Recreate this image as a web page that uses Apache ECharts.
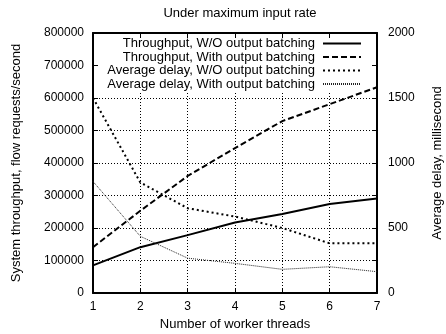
<!DOCTYPE html>
<html>
<head>
<meta charset="utf-8">
<script src="https://cdn.jsdelivr.net/npm/echarts@6/dist/echarts.min.js"></script>
<style>
html,body{margin:0;padding:0;background:#fff;}
#c{width:446px;height:334px;}
</style>
</head>
<body>
<div id="c"></div>
<script>
const threads = [1, 2, 3, 4, 5, 6, 7];
const thrWithout = [85000, 141000, 178000, 217000, 243000, 274000, 291000];
const thrWith = [141000, 253000, 360000, 446000, 529000, 581000, 633000];
const delayWithout = [1500, 850, 652, 588, 500, 382, 382];
const delayWith = [858, 436, 268, 228, 182, 202, 164];
const seriesNames = [
  'Throughput, W/O output batching',
  'Throughput, With output batching',
  'Average delay, W/O output batching',
  'Average delay, With output batching'
];
const titleText = 'Under maximum input rate';
const xName = 'Number of worker threads';
const yLeftName = 'System throughput, flow requests/second';
const yRightName = 'Average delay, millisecond';

const FONT = 'Liberation Sans, Arial, sans-serif';
const pair = (xs, ys) => xs.map((x, i) => [x, ys[i]]);
const plain = v => String(v);

const styles = [
  {width: 2, type: 'solid', color: '#000'},
  {width: 2, type: [6, 3], color: '#000'},
  {width: 2, type: [2, 3], color: '#000'},
  {width: 1, type: [1, 1], color: '#222'}
];

const chart = echarts.init(document.getElementById('c'), null, {renderer: 'canvas'});

const legendTops = [37, 50.5, 64, 77.5];
const legends = seriesNames.map((n, i) => ({
  data: [n],
  right: 84,
  top: legendTops[i],
  align: 'right',
  orient: 'vertical',
  itemWidth: 38,
  itemHeight: 13,
  itemGap: 0,
  padding: 0,
  selectedMode: false,
  itemStyle: {opacity: 0, borderWidth: 0},
  textStyle: {fontFamily: FONT, fontSize: 13, color: '#000', padding: [0, 3, 0, 0]}
}));

const option = {
  animation: false,
  backgroundColor: '#fff',
  title: {
    text: titleText,
    left: 235, top: 2, textAlign: 'center',
    textStyle: {fontFamily: FONT, fontSize: 13, fontWeight: 'normal', color: '#000'}
  },
  legend: legends,
  grid: {left: 93, right: 69, top: 33, bottom: 41, containLabel: false, outerBoundsMode: 'none'},
  graphic: [{
    type: 'rect', z: 1,
    shape: {x: 98, y: 35, width: 273, height: 57},
    style: {fill: '#fff'}
  }],
  xAxis: [{
    type: 'value', min: 1, max: 7, interval: 1, position: 'bottom',
    name: xName, nameLocation: 'middle', nameGap: 25,
    nameTextStyle: {fontFamily: FONT, fontSize: 13, color: '#000'},
    axisLine: {onZero: false, lineStyle: {color: '#000', width: 2}},
    axisTick: {inside: true, length: 5, lineStyle: {color: '#000', width: 1}},
    axisLabel: {fontFamily: FONT, fontSize: 12, color: '#000', margin: 8, formatter: plain},
    splitLine: {show: true, lineStyle: {color: '#000', width: 1, type: [1, 2]}}
  }, {
    type: 'value', min: 1, max: 7, interval: 1, position: 'top', z: 3,
    axisLine: {onZero: false, lineStyle: {color: '#000', width: 2}},
    axisTick: {inside: true, length: 5, lineStyle: {color: '#000', width: 1}},
    axisLabel: {show: false},
    splitLine: {show: false}
  }],
  yAxis: [{
    type: 'value', min: 0, max: 800000, interval: 100000, position: 'left',
    name: yLeftName, nameLocation: 'middle', nameGap: 70,
    nameTextStyle: {fontFamily: FONT, fontSize: 13, color: '#000'},
    axisLine: {show: true, lineStyle: {color: '#000', width: 2}},
    axisTick: {show: true, inside: true, length: 5, lineStyle: {color: '#000', width: 1}},
    axisLabel: {fontFamily: FONT, fontSize: 12, color: '#000', margin: 9, formatter: plain},
    splitLine: {show: true, lineStyle: {color: '#000', width: 1, type: [1, 2]}}
  }, {
    type: 'value', min: 0, max: 2000, interval: 500, position: 'right',
    name: yRightName, nameLocation: 'middle', nameGap: 54, nameRotate: 90,
    nameTextStyle: {fontFamily: FONT, fontSize: 13, color: '#000'},
    axisLine: {show: true, lineStyle: {color: '#000', width: 2}},
    axisTick: {show: true, inside: true, length: 5, lineStyle: {color: '#000', width: 1}},
    minorTick: {show: true, splitNumber: 2, length: 5, lineStyle: {color: '#000', width: 1}},
    axisLabel: {fontFamily: FONT, fontSize: 12, color: '#000', margin: 11, formatter: plain},
    splitLine: {show: false}
  }],
  series: [
    {name: seriesNames[0], type: 'line', xAxisIndex: 0, yAxisIndex: 0, data: pair(threads, thrWithout)},
    {name: seriesNames[1], type: 'line', xAxisIndex: 0, yAxisIndex: 0, data: pair(threads, thrWith)},
    {name: seriesNames[2], type: 'line', xAxisIndex: 0, yAxisIndex: 1, data: pair(threads, delayWithout)},
    {name: seriesNames[3], type: 'line', xAxisIndex: 0, yAxisIndex: 1, data: pair(threads, delayWith)}
  ].map((s, i) => Object.assign(s, {
    symbol: 'none', showSymbol: false, z: 2,
    lineStyle: Object.assign({cap: 'butt'}, styles[i]),
    itemStyle: {color: styles[i].color}
  }))
};
chart.setOption(option);
</script>
</body>
</html>
